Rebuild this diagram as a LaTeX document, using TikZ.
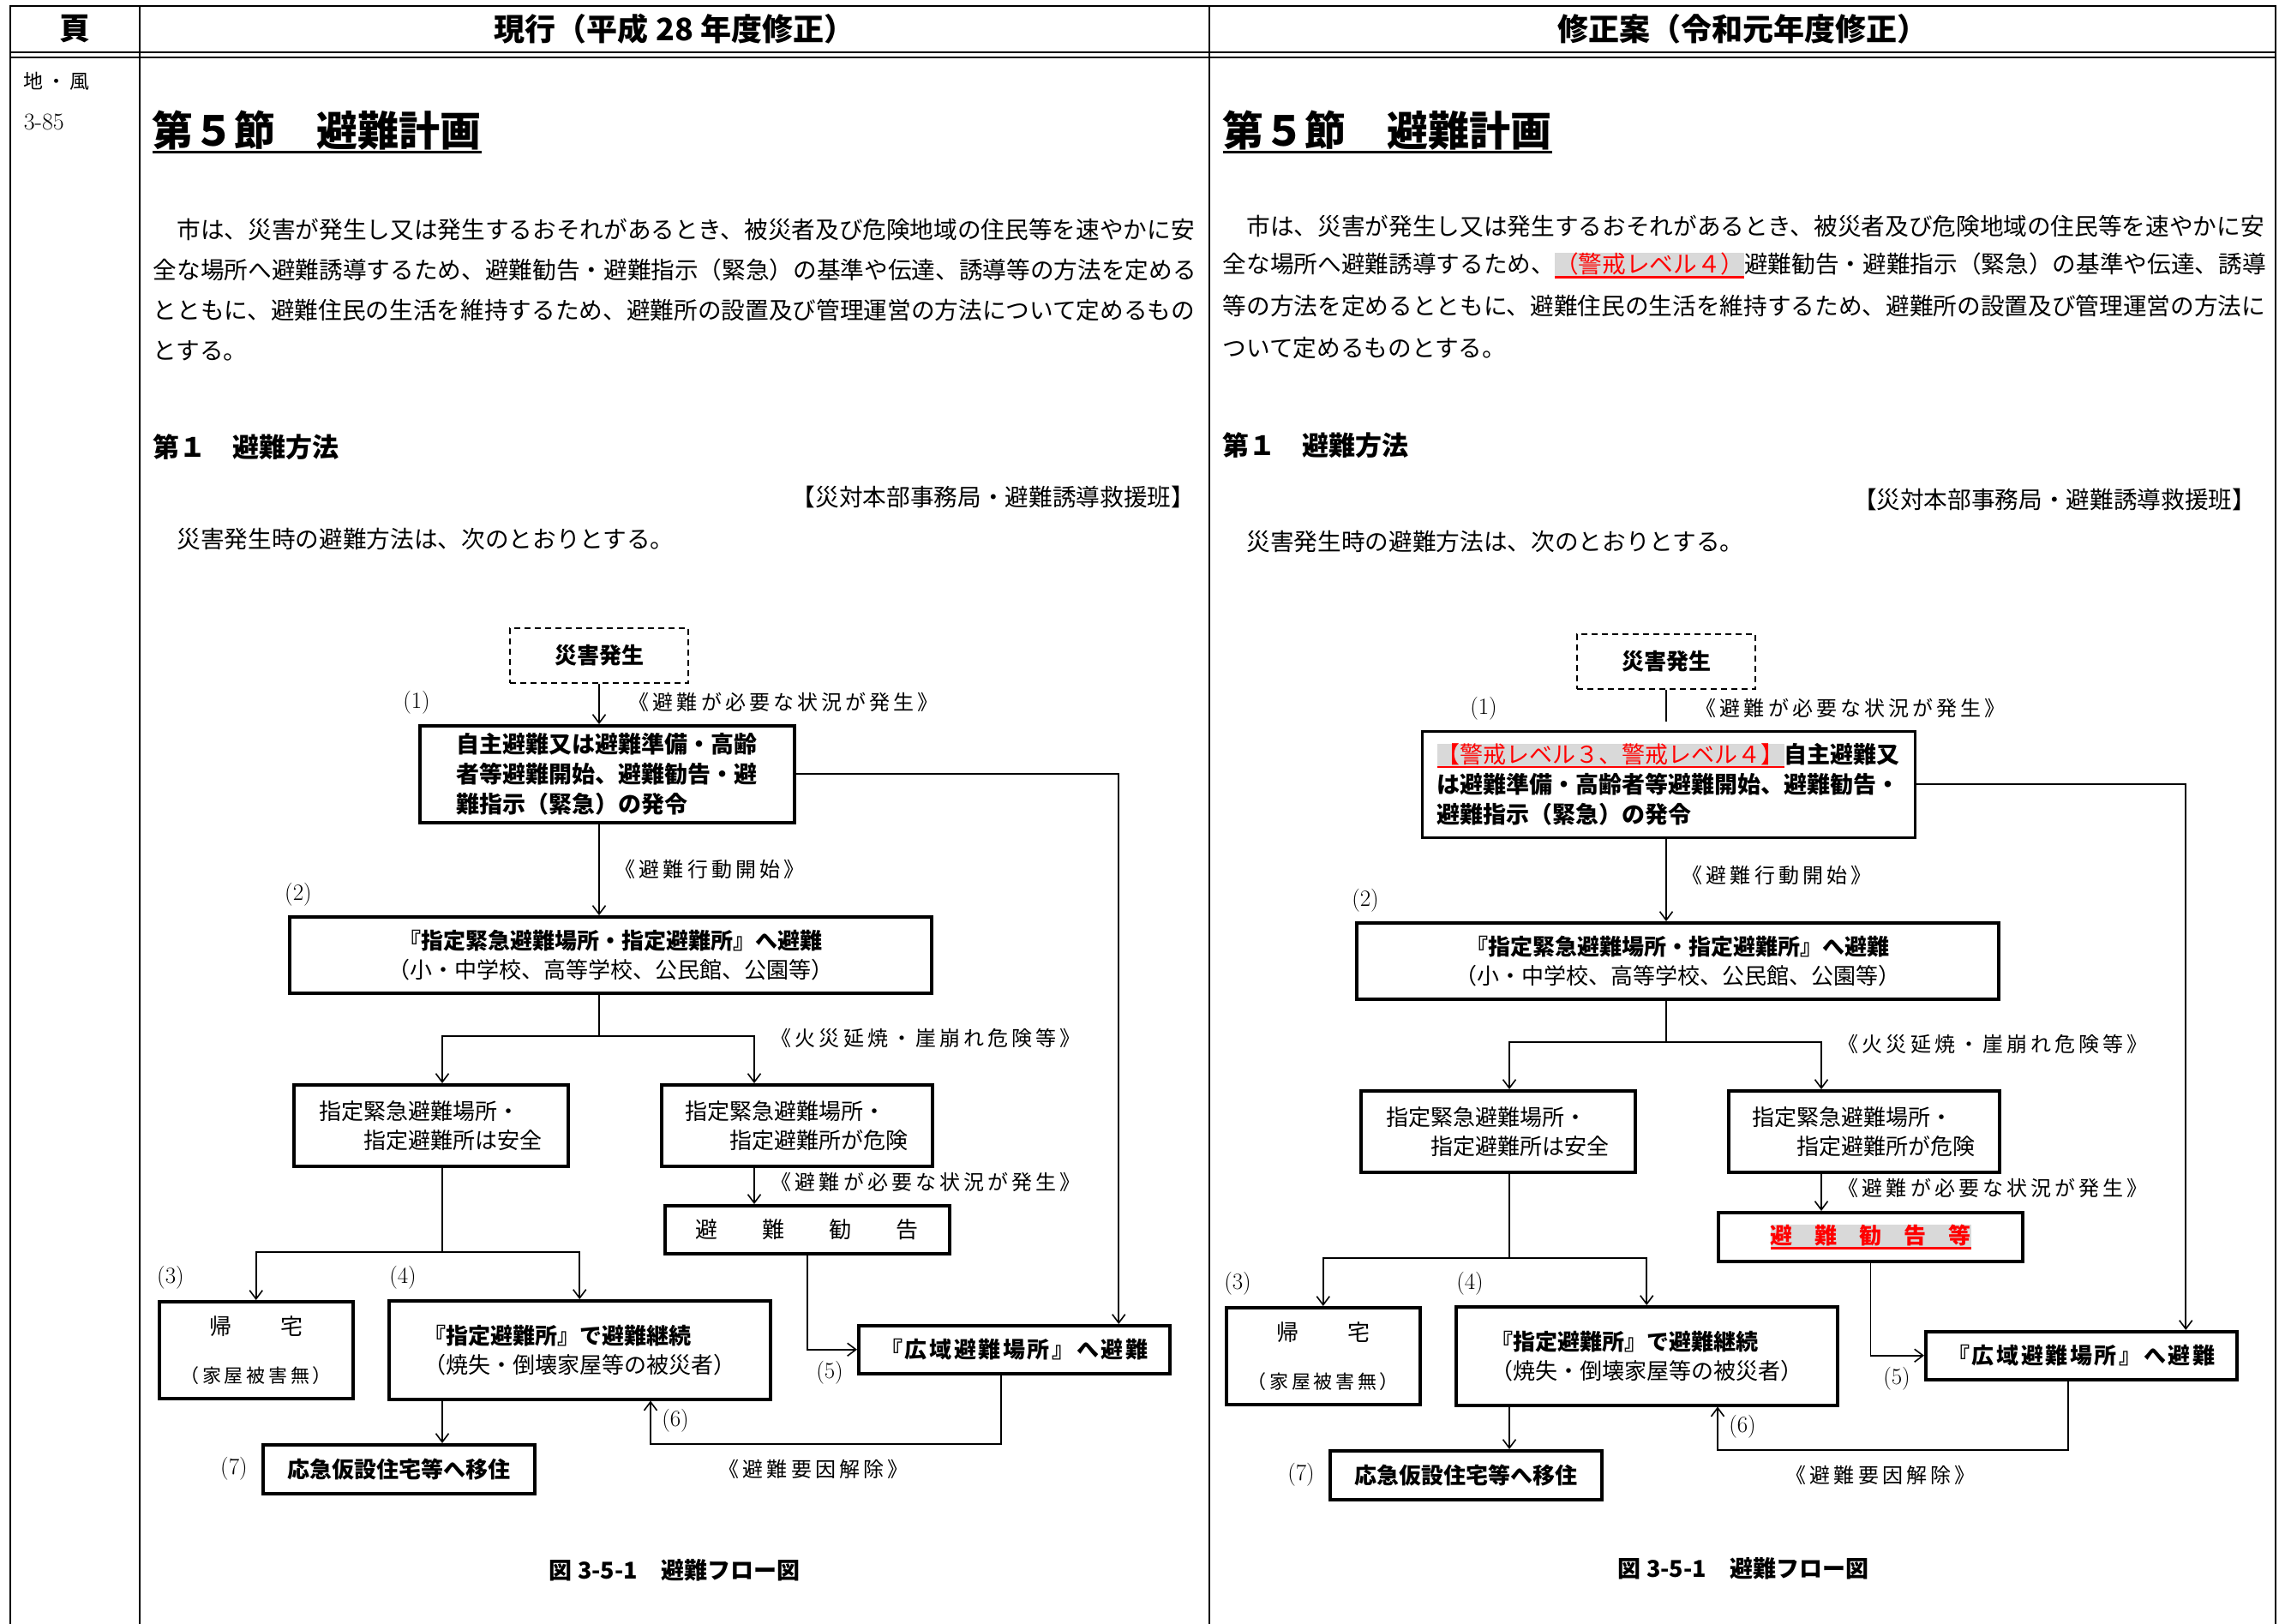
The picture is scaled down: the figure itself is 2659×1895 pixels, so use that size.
\documentclass[tikz,border=0pt]{standalone}
\usepackage{fontspec}
\usetikzlibrary{arrows.meta}
\newfontfamily\jp{Noto Sans CJK JP}
\newfontfamily\jpsp{Noto Sans CJK JP}[LetterSpace=17]
\definecolor{modred}{RGB}{255,0,0}
\definecolor{hlgray}{RGB}{217,217,217}
\newcommand\Mod[1]{{\setlength\fboxsep{0pt}\colorbox{hlgray}{\color{modred}\vtop{\hbox{#1}\kern1pt\hrule height 2.5pt}}}}
\newcommand\Uline[1]{\vtop{\hbox{#1}\hrule height 3pt}}

\tikzset{
  >={Straight Barb[length=10pt,width=15pt]},
  tabline/.style={line width=2.2pt},
  flowbox/.style={draw, line width=3.5pt, anchor=north west, inner sep=0pt, align=center,
    font=\jp\fontsize{26}{34}\selectfont},
  dashbox/.style={draw, line width=1.6pt, dash pattern=on 7pt off 5pt, minimum width=208pt,
    minimum height=64pt, font=\jp\bfseries\fontsize{26}{34}\selectfont},
  note/.style={anchor=west, inner sep=0pt, font=\jpsp\fontsize{24}{28}\selectfont},
  num/.style={inner sep=0pt, font=\fontsize{27}{29}\selectfont},
  body/.style={anchor=west, inner sep=0pt, font=\jp\fontsize{27.66}{47}\selectfont},
  head/.style={inner sep=0pt, font=\jp\bfseries\fontsize{36}{40}\selectfont},
  title/.style={anchor=west, inner sep=0pt, font=\jp\bfseries\fontsize{48}{56}\selectfont},
  sect/.style={anchor=west, inner sep=0pt, font=\jp\bfseries\fontsize{31}{36}\selectfont},
}

% one flow chart: #1 first box (b1), #2 look of the first line, #3 advice box (adv)
\newcommand\FlowChart[3]{%
  \node[dashbox] (dis) at (699,765) {災害発生};
  #1
  \draw[#2] (dis.south) -- (b1.north -| dis.south);
  \node[flowbox, minimum width=749pt, minimum height=89pt] (b2) at (336,1068)
    {{\bfseries 『指定緊急避難場所・指定避難所』へ避難}\\（小・中学校、高等学校、公民館、公園等）};
  \draw[->] (b1.south -| dis.south) -- (b2.north -| dis.south);

  \coordinate (sp) at (699,1209);
  \coordinate (sl) at (516,1209);
  \coordinate (sr) at (880,1209);
  \node[flowbox, align=left, minimum width=320pt, minimum height=95pt] (safe) at (341,1264)
    {指定緊急避難場所・\\　　指定避難所は安全};
  \node[flowbox, align=left, minimum width=316pt, minimum height=95pt] (danger) at (770,1264)
    {指定緊急避難場所・\\　　指定避難所が危険};
  \draw (b2.south -| sp) -- (sp);
  \draw[->] (sp) -- (sl) -- (sl |- safe.north);
  \draw[->] (sp) -- (sr) -- (sr |- danger.north);

  #3
  \draw[->] (danger.south -| sr) -- (adv.north -| sr);

  \coordinate (ml) at (516,1461);
  \node[flowbox, minimum width=226pt, minimum height=113pt] (home) at (184,1517)
    {帰\hspace{2.2em}宅\\[22pt]{\jpsp\fontsize{22}{26}\selectfont （家屋被害無）}};
  \node[flowbox, align=left, text width=364pt, minimum width=445pt, minimum height=115pt] (stay) at (452,1516)
    {{\bfseries 『指定避難所』で避難継続}\\（焼失・倒壊家屋等の被災者）};
  \draw (safe.south -| ml) -- (ml);
  \draw[->] (ml) -| (home.north);
  \draw[->] (ml) -| (stay.north);

  \node[flowbox, minimum width=363pt, minimum height=56pt,
    font=\jp\bfseries\fontsize{26}{34}\selectfont\addfontfeature{LetterSpace=10}] (wide) at (1000,1545) {『広域避難場所』へ避難};
  \draw[->] (adv.south) |- (wide.west);
  \draw[->] (b1.east) -| ([xshift=122pt]wide.north);

  \coordinate (rl) at (759,1685);
  \draw[->] ([xshift=-15pt]wide.south) |- (rl) -- (rl |- stay.south);
  \node[flowbox, minimum width=317pt, minimum height=57pt] (temp) at (305,1684) {\bfseries 応急仮設住宅等へ移住};
  \draw[->] (stay.south -| sl) -- (temp.north -| sl);

  \node[num] (n1) at (486,820) {(1)};
  \node[num] (n2) at (348,1044) {(2)};
  \node[num] (n3) at (199,1491) {(3)};
  \node[num] (n4) at (470,1491) {(4)};
  \node[num] (n5) at (968,1602) {(5)};
  \node[num] (n6) at (788,1658) {(6)};
  \node[num] (n7) at (273,1714) {(7)};
  \node[note] (c1) at (733,819) {《避難が必要な状況が発生》};
  \node[note] (c2) at (717,1014) {《避難行動開始》};
  \node[note] (c3) at (899,1211) {《火災延焼・崖崩れ危険等》};
  \node[note] (c4) at (899,1379) {《避難が必要な状況が発生》};
  \node[note] (c5) at (838,1714) {《避難要因解除》};
}

\begin{document}
\begin{tikzpicture}[x=1pt, y=-1pt, line width=1.6pt]
  \useasboundingbox (0,0) rectangle (2659,1895);

  % table
  \draw[tabline] (12,1895) -- (12,7) -- (2655,7) -- (2655,1895);
  \draw[tabline] (12,61) -- (2655,61);
  \draw[tabline] (12,67) -- (2655,67);
  \draw[tabline] (163,7) -- (163,1895);
  \draw[tabline] (1411,7) -- (1411,1895);

  \node[head] (hp) at (87,34) {頁};
  \node[head] (hl) at (787,34) {現行（平成 28 年度修正）};
  \node[head] (hr) at (2033,34) {修正案（令和元年度修正）};

  \node[note, font=\jpsp\fontsize{23}{28}\selectfont] (pg1) at (27,95) {地・風};
  \node[anchor=west, inner sep=0pt, font=\fontsize{28}{30}\selectfont] (pg2) at (27,142) {3-85};

  % current text
  \node[title] (lt) at (177,154) {\Uline{第５節　避難計画}};
  \node[body] (lp1) at (178,268) {　市は、災害が発生し又は発生するおそれがあるとき、被災者及び危険地域の住民等を速やかに安};
  \node[body] (lp2) at (178,315) {全な場所へ避難誘導するため、避難勧告・避難指示（緊急）の基準や伝達、誘導等の方法を定める};
  \node[body] (lp3) at (178,362) {とともに、避難住民の生活を維持するため、避難所の設置及び管理運営の方法について定めるもの};
  \node[body] (lp4) at (178,409) {とする。};
  \node[sect] (ls) at (178,522) {第１　避難方法};
  \node[body, anchor=east] (lo) at (1395,580) {【災対本部事務局・避難誘導救援班】};
  \node[body] (li) at (178,629) {　災害発生時の避難方法は、次のとおりとする。};

  % revised text
  \node[title] (rt) at (1426,154) {\Uline{第５節　避難計画}};
  \node[body] (rp1) at (1426,264) {　市は、災害が発生し又は発生するおそれがあるとき、被災者及び危険地域の住民等を速やかに安};
  \node[body] (rp2) at (1426,310) {全な場所へ避難誘導するため、\Mod{（警戒レベル４）}避難勧告・避難指示（緊急）の基準や伝達、誘導};
  \node[body] (rp3) at (1426,357) {等の方法を定めるとともに、避難住民の生活を維持するため、避難所の設置及び管理運営の方法に};
  \node[body] (rp4) at (1426,406) {ついて定めるものとする。};
  \node[sect] (rs) at (1426,520) {第１　避難方法};
  \node[body, anchor=east] (ro) at (2633,583) {【災対本部事務局・避難誘導救援班】};
  \node[body] (ri) at (1426,632) {　災害発生時の避難方法は、次のとおりとする。};

  % charts
  \begin{scope}[name prefix=l-]
    \FlowChart{\node[flowbox, align=left, text width=351pt, minimum width=437pt, minimum height=113pt,
      font=\jp\bfseries\fontsize{27}{35}\selectfont] (b1) at (488,845)
      {自主避難又は避難準備・高齢\\者等避難開始、避難勧告・避\\難指示（緊急）の発令};}{->}
      {\node[flowbox, minimum width=332pt, minimum height=56pt] (adv) at (774,1405) {避　　難　　勧　　告};}
  \end{scope}
  \begin{scope}[shift={(1245,7)}, name prefix=r-]
    \FlowChart{\node[flowbox, line width=2.5pt, align=left, text width=540pt, minimum width=575pt, minimum height=124pt,
      font=\jp\bfseries\fontsize{27}{35}\selectfont] (b1) at (413,845)
      {{\mdseries\Mod{【警戒レベル３、警戒レベル４】}}自主避難又\\は避難準備・高齢者等避難開始、避難勧告・\\避難指示（緊急）の発令};}{shorten >=10pt}
      {\node[flowbox, line width=4pt, minimum width=355pt, minimum height=57pt] (adv) at (758,1406)
      {\bfseries\Mod{避　難　勧　告　等}};}
  \end{scope}

  \node[head, font=\jp\bfseries\fontsize{27}{32}\selectfont] (lf) at (787,1832) {図 3-5-1　避難フロー図};
  \node[head, font=\jp\bfseries\fontsize{27}{32}\selectfont] (rf) at (2034,1830) {図 3-5-1　避難フロー図};
\end{tikzpicture}
\end{document}
